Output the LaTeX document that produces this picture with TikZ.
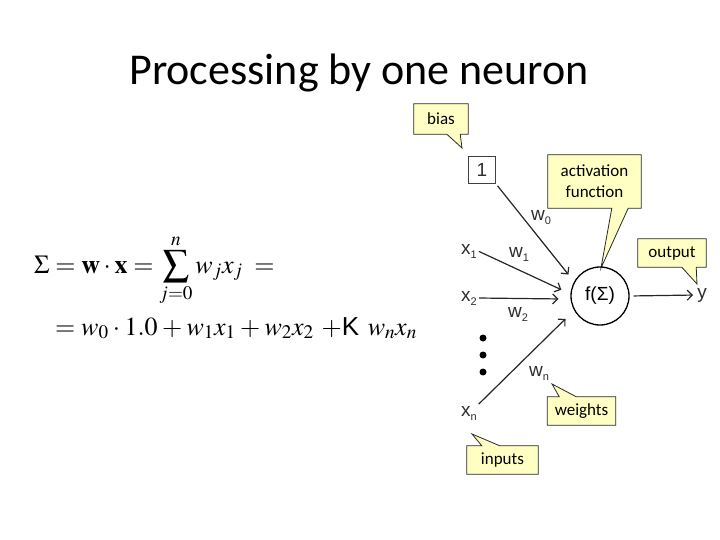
\documentclass[tikz,border=0pt]{standalone}
\usepackage{amsmath}
\usepackage{mathptmx}
\usepackage[no-math]{fontspec}
\newfontfamily\carlito{Carlito}
\newfontfamily\arial{Liberation Sans}
\usetikzlibrary{arrows.meta,calc,backgrounds}
\definecolor{cy}{RGB}{255,255,196}
\definecolor{cb}{RGB}{40,40,40}
\definecolor{lab}{RGB}{45,45,45}
\newcommand{\sbs}[1]{\raisebox{-4pt}{\fontsize{11}{11}\selectfont #1}}
\tikzset{
  callout/.style={fill=cy, draw=cb, line width=0.8pt},
  ctext/.style={font=\carlito\fontsize{17}{21}\selectfont, inner sep=0pt, align=center},
  lab/.style={font=\arial\fontsize{19}{22}\selectfont, text=lab, inner sep=1pt},
  arr/.style={draw=black!85, line width=1.2pt, -{Straight Barb[length=5pt,width=10pt]}},
  eqfont/.style={font=\fontsize{26}{32}\selectfont, inner sep=0pt},
}
\begin{document}
\begin{tikzpicture}[x=1pt,y=-1pt]
\useasboundingbox (0,0) rectangle (720,540);

% title
\node[font=\carlito\fontsize{44}{52}\selectfont, anchor=base, inner sep=0pt] (title) at (359,85) {Processing by one neuron};

% equations
\node[eqfont, anchor=base west] (eq1) at (34,273) {$\displaystyle \Sigma = \mathbf{w}\cdot\mathbf{x} = \sum_{j=0}^{n} w_j x_j \;=$};
\node[eqfont, anchor=base west] (eq2) at (55,335) {$\medmuskip=3mu = w_0 \cdot 1.0 + w_1x_1 + w_2x_2\ {+}\mbox{\arial K}\;\, w_nx_n$};

% neuron
\node[draw, circle, minimum size=58pt, line width=1.3pt, inner sep=0pt, font=\arial\fontsize{19}{22}\selectfont] (neuron) at (600,296) {f(Σ)};
\node[draw=black!75, line width=1.5pt, minimum size=27pt, inner sep=0pt, font=\arial\fontsize{19}{22}\selectfont, text=lab] (one) at (482,170) {1};

% inputs
\node[lab] (x1) at (469,251) {x\sbs{1}};
\node[lab] (x2) at (469,298) {x\sbs{2}};
\node[lab] (xn) at (469,413) {x\sbs{n}};
\node[lab] (y) at (702,295) {y};

% weights
\node[lab] (w0) at (541,218) {w\sbs{0}};
\node[lab] (w1) at (519,254) {w\sbs{1}};
\node[lab] (w2) at (518,314) {w\sbs{2}};
\node[lab] (wn) at (539,373) {w\sbs{n}};

% dots
\fill (483,338) circle (3.5);
\fill (483,355) circle (3.5);
\fill (483,372) circle (3.5);

% connectors
\draw[arr, shorten <=2pt, shorten >=9pt] (one.south east) -- (neuron.151);
\draw[arr, shorten <=1pt, shorten >=10pt] (x1.east) -- (neuron.176);
\draw[arr, shorten <=1pt, shorten >=12pt] (x2.east) -- (neuron.186);
\draw[arr, shorten <=1pt, shorten >=12pt] (xn.north east) -- (neuron.209);
\draw[arr, shorten <=4pt, shorten >=3pt] (neuron.east) -- (y.west);

% callouts
\coordinate (biastip) at (462,148);
\coordinate (acttip) at (601,268);
\coordinate (outtip) at (697,284);
\coordinate (wtip) at (552,384);
\coordinate (intip) at (472,434);

\node[ctext, minimum width=54pt, minimum height=30pt] (bias) at (441,119) {bias};
\node[ctext, minimum width=93pt, minimum height=53pt] (act) at (594.5,181.5) {activation\\function};
\node[ctext, minimum width=68pt, minimum height=28pt] (out) at (672,253) {output};
\node[ctext, minimum width=68pt, minimum height=28pt] (wts) at (581.5,411) {weights};
\node[ctext, minimum width=71pt, minimum height=28pt] (inp) at (502.5,460) {inputs};

\begin{pgfonlayer}{background}
\path[callout] (bias.north west) -- (bias.north east) -- (bias.south east)
  -- ($(bias.south east)+(-8,0)$) -- (biastip) -- ($(bias.south west)+(33,0)$) -- (bias.south west) -- cycle;
\path[callout] (act.north west) -- (act.north east) -- (act.south east)
  -- ($(act.south east)+(-13,0)$) -- (acttip) -- ($(act.south west)+(64,0)$) -- (act.south west) -- cycle;
\path[callout] (out.north west) -- (out.north east) -- (out.south east)
  -- ($(out.south east)+(-10,0)$) -- (outtip) -- ($(out.south west)+(44,0)$) -- (out.south west) -- cycle;
\path[callout] (wts.south west) -- (wts.north west) -- ($(wts.north west)+(12,0)$)
  -- (wtip) -- ($(wts.north west)+(29,0)$) -- (wts.north east) -- (wts.south east) -- cycle;
\path[callout] (inp.south west) -- (inp.north west) -- ($(inp.north west)+(15,0)$)
  -- (intip) -- ($(inp.north west)+(33,0)$) -- (inp.north east) -- (inp.south east) -- cycle;
\end{pgfonlayer}
\end{tikzpicture}
\end{document}
